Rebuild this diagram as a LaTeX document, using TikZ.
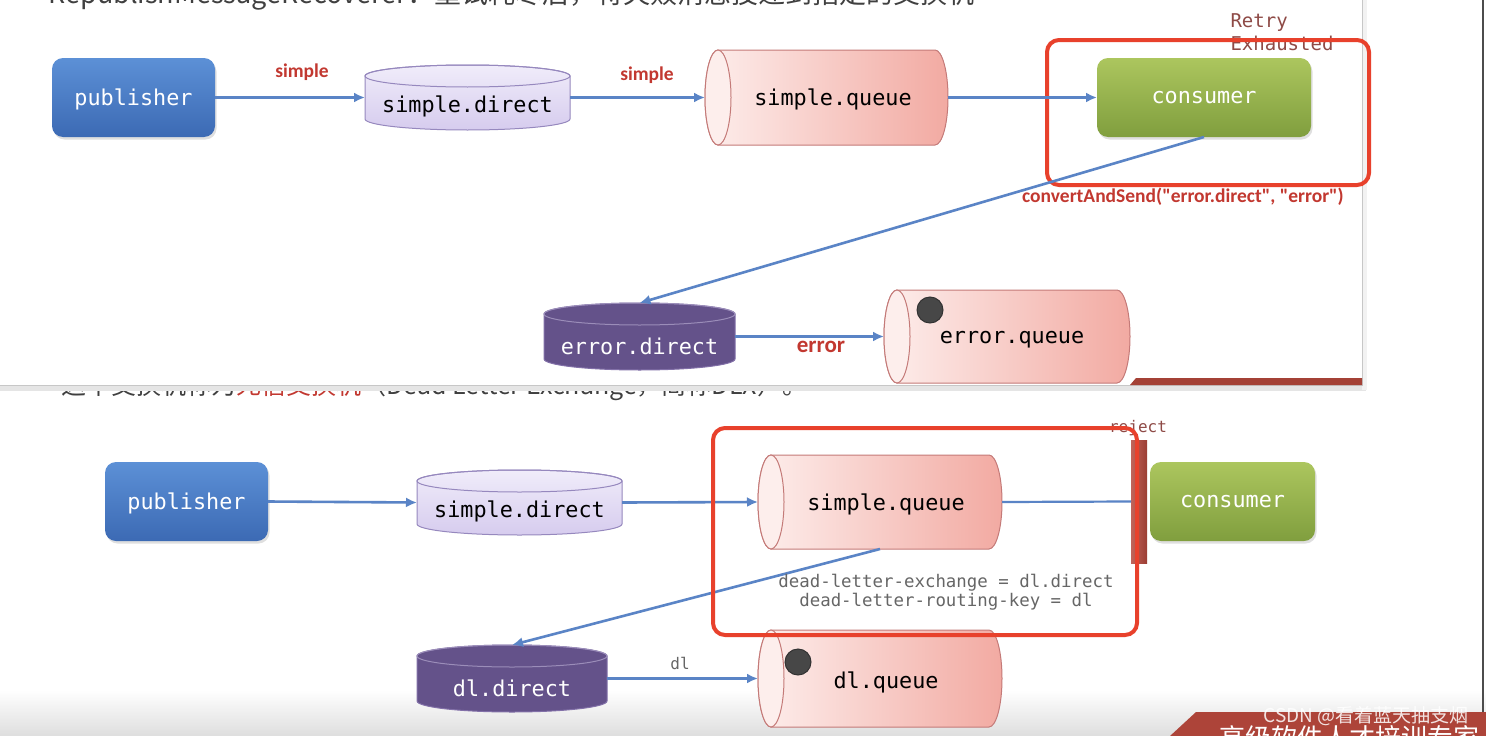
\documentclass[tikz,border=0pt]{standalone}
\usepackage{fontspec}
\setmainfont{Carlito}
\setmonofont{DejaVu Sans Mono}
\newfontfamily\cjk{Noto Sans CJK SC}
\usepackage{tikz}
\usetikzlibrary{arrows.meta,positioning,shadows}

\definecolor{pubtop}{RGB}{92,144,214}
\definecolor{pubbot}{RGB}{60,106,180}
\definecolor{contop}{RGB}{172,198,94}
\definecolor{conbot}{RGB}{128,158,62}
\definecolor{lilactop}{RGB}{240,236,250}
\definecolor{lilacbot}{RGB}{214,204,238}
\definecolor{lilacedge}{RGB}{150,136,190}
\definecolor{plum}{RGB}{100,82,138}
\definecolor{plumedge}{RGB}{130,112,168}
\definecolor{qleft}{RGB}{253,238,236}
\definecolor{qright}{RGB}{242,170,162}
\definecolor{qedge}{RGB}{196,122,120}
\definecolor{linkblue}{RGB}{90,132,198}
\definecolor{hilite}{RGB}{232,65,44}
\definecolor{keyred}{RGB}{194,56,48}
\definecolor{notebrown}{RGB}{142,74,70}
\definecolor{barred}{RGB}{182,72,60}

\tikzset{
  flow/.style={draw=linkblue, line width=2.6pt, -{Latex[length=11pt,width=10pt]}},
  link/.style={draw=linkblue, line width=2.2pt},
  boxlabel/.style={font=\ttfamily\fontsize{21.8}{26}\selectfont},
  shapebox/.style={inner sep=0pt, outer sep=0pt},
  appbox/.style={shapebox, rounded corners=11pt, text=white, boxlabel, text depth=1pt,
    drop shadow={opacity=0.25, shadow xshift=1.5pt, shadow yshift=-2.5pt}},
  pubbox/.style={appbox, top color=pubtop, bottom color=pubbot, minimum width=163pt, minimum height=79pt},
  conbox/.style={appbox, top color=contop, bottom color=conbot, minimum height=79pt},
  xlight/.style={draw=lilacedge, line width=1pt, top color=lilactop, bottom color=lilacbot},
  xdark/.style={draw=plumedge, line width=1pt, fill=plum},
  qbody/.style={draw=qedge, line width=1pt, left color=qleft, right color=qright},
  qend/.style={draw=qedge, line width=1pt, fill=qleft},
  msgdot/.style={draw=black!80, line width=1pt, fill=black!72},
  keylabel/.style={text=keyred, font=\bfseries\fontsize{19.5}{23}\selectfont},
  notelabel/.style={text=notebrown, font=\ttfamily\fontsize{19}{23}\selectfont},
  redframe/.style={draw=hilite, line width=4pt, rounded corners=12pt},
}

\begin{document}
\begin{tikzpicture}[x=1pt,y=1pt]
  \useasboundingbox (0,0) rectangle (1486,-736);
  \clip (0,0) rectangle (1486,-736);

  % page background and bottom fade
  \fill[white] (0,0) rectangle (1486,-736);
  \shade[top color=white, bottom color=black!13] (0,-690) rectangle (1486,-736);

  % text line half hidden under the slide
  \node[anchor=west, font=\cjk\fontsize{25}{30}\selectfont, text=black!75] (dlxnote) at (58,-387)
    {这个交换机称为{\color{keyred}死信交换机}（Dead Letter Exchange，简称DLX）。};

  % upper slide with its shadow
  \fill[black!10] (0,-384) rectangle (1366,-391);
  \fill[black!5] (1362,0) rectangle (1367,-390);
  \fill[white] (0,0) rectangle (1362,-385);
  \draw[black!22, line width=0.8pt] (1362,0) -- (1362,-385) -- (0,-385);
  \fill[barred!90!black] (1136,-378) -- (1130,-385) -- (1362,-385) -- (1362,-378) -- cycle;
  \node[anchor=west, font=\cjk\fontsize{27}{32}\selectfont, text=black!75] (recnote) at (45,5)
    {RepublishMessageRecoverer：重试耗尽后，将失败消息投递到指定的交换机};

  % ---------------- upper diagram ----------------
  \node[pubbox] (pub1) at (133.5,-97.5) {publisher};

  % simple.direct
  \path[xlight] (365,-76) -- (365,-119) arc[start angle=180,end angle=360,x radius=102.5,y radius=11]
    -- (570,-76) arc[start angle=0,end angle=180,x radius=102.5,y radius=11] -- cycle;
  \draw[lilacedge, line width=1pt] (467.5,-76) ellipse [x radius=102.5, y radius=11];
  \node[shapebox, minimum width=205pt, minimum height=65pt] (sd1) at (467.5,-97.5) {};
  \node[boxlabel] (sd1t) at ([yshift=-9pt]sd1.center) {simple.direct};

  % simple.queue
  \path[qbody] (718,-50) arc[start angle=90,end angle=270,x radius=13,y radius=47.5]
    -- (935,-145) arc[start angle=-90,end angle=90,x radius=13,y radius=47.5] -- cycle;
  \draw[qend] (718,-97.5) ellipse [x radius=13, y radius=47.5];
  \node[shapebox, minimum width=243pt, minimum height=95pt] (sq1) at (826.5,-97.5) {};
  \node[boxlabel] (sq1t) at (833,-99.5) {simple.queue};

  \node[conbox, minimum width=214pt] (con1) at (1204,-97.5) {consumer};

  \node[notelabel, anchor=north west, align=left] (retry) at (1227,-10) {Retry\\Exhausted};
  \draw[redframe] (1047,-40) rectangle (1369,-185);

  % error.direct
  \path[xdark] (544,-314) -- (544,-359) arc[start angle=180,end angle=360,x radius=95.5,y radius=11]
    -- (735,-314) arc[start angle=0,end angle=180,x radius=95.5,y radius=11] -- cycle;
  \draw[plumedge!80!white, line width=1pt] (639.5,-314) ellipse [x radius=95.5, y radius=11];
  \node[shapebox, minimum width=191pt, minimum height=67pt] (ed1) at (639.5,-336.5) {};
  \node[boxlabel, text=white] (ed1t) at (639.5,-346) {error.direct};

  % error.queue
  \path[qbody] (897,-290) arc[start angle=90,end angle=270,x radius=13,y radius=46.5]
    -- (1117,-383) arc[start angle=-90,end angle=90,x radius=13,y radius=46.5] -- cycle;
  \draw[qend] (897,-336.5) ellipse [x radius=13, y radius=46.5];
  \fill[msgdot] (930,-310) circle (13);
  \node[shapebox, minimum width=246pt, minimum height=93pt] (eq1) at (1007,-336.5) {};
  \node[boxlabel] (eq1t) at (1012,-340) {error.queue};

  % upper connectors
  \draw[flow] (pub1.east) -- (sd1.west);
  \draw[flow] (sd1.east) -- (sq1.west);
  \draw[flow] (sq1.east) -- (con1.west);
  \draw[flow] (con1.south) -- (ed1.north);
  \draw[flow] (ed1.east) -- (eq1.west);
  \node[keylabel] (k1) at (302,-72) {simple};
  \node[keylabel] (k2) at (647,-75) {simple};
  \node[keylabel, font=\bfseries\fontsize{23}{27}\selectfont] (k3) at (821,-347) {error};
  \node[keylabel] (k4) at (1183,-197) {convertAndSend(\textquotedbl error.direct\textquotedbl, \textquotedbl error\textquotedbl)};

  % ---------------- lower diagram ----------------
  \node[pubbox] (pub2) at (186.5,-501.5) {publisher};

  % simple.direct
  \path[xlight] (417,-481) -- (417,-524) arc[start angle=180,end angle=360,x radius=102.5,y radius=11]
    -- (622,-481) arc[start angle=0,end angle=180,x radius=102.5,y radius=11] -- cycle;
  \draw[lilacedge, line width=1pt] (519.5,-481) ellipse [x radius=102.5, y radius=11];
  \node[shapebox, minimum width=205pt, minimum height=65pt] (sd2) at (519.5,-502.5) {};
  \node[boxlabel] (sd2t) at ([yshift=-9pt]sd2.center) {simple.direct};

  % simple.queue
  \path[qbody] (771,-455) arc[start angle=90,end angle=270,x radius=13,y radius=47]
    -- (989,-549) arc[start angle=-90,end angle=90,x radius=13,y radius=47] -- cycle;
  \draw[qend] (771,-502) ellipse [x radius=13, y radius=47];
  \node[shapebox, minimum width=244pt, minimum height=94pt] (sq2) at (880,-502) {};
  \node[boxlabel] (sq2t) at (886,-504) {simple.queue};

  \node[notelabel, font=\ttfamily\fontsize{16}{19}\selectfont] (rej) at (1138,-428) {reject};
  \node[shapebox, minimum width=16pt, minimum height=123pt, left color=barred!85!white,
    right color=barred!85!black] (bar) at (1139,-501.5) {};
  \node[conbox, minimum width=165pt] (con2) at (1232.5,-501.5) {consumer};

  % dl.direct
  \path[xdark] (417,-656) -- (417,-701) arc[start angle=180,end angle=360,x radius=95,y radius=11]
    -- (607,-656) arc[start angle=0,end angle=180,x radius=95,y radius=11] -- cycle;
  \draw[plumedge!80!white, line width=1pt] (512,-656) ellipse [x radius=95, y radius=11];
  \node[shapebox, minimum width=190pt, minimum height=67pt] (dd2) at (512,-678.5) {};
  \node[boxlabel, text=white] (dd2t) at (512,-688) {dl.direct};

  % dl.queue
  \path[qbody] (771,-630) arc[start angle=90,end angle=270,x radius=13,y radius=48.5]
    -- (989,-727) arc[start angle=-90,end angle=90,x radius=13,y radius=48.5] -- cycle;
  \draw[qend] (771,-678.5) ellipse [x radius=13, y radius=48.5];
  \fill[msgdot] (798,-662) circle (13);
  \node[shapebox, minimum width=244pt, minimum height=97pt] (dq2) at (880,-678.5) {};
  \node[boxlabel] (dq2t) at (886,-682) {dl.queue};

  % lower connectors
  \draw[flow] (pub2.east) -- (sd2.west);
  \draw[flow] (sd2.east) -- (sq2.west);
  \draw[link] (sq2.east) -- (bar.west);
  \draw[flow] (sq2.south) -- (dd2.north);
  \draw[flow] (dd2.east) -- (dq2.west);
  \node[notelabel, text=black!60, font=\ttfamily\fontsize{16}{19}\selectfont] (dlkey) at (680,-663) {dl};
  \node[notelabel, text=black!60, align=center, font=\ttfamily\fontsize{17.4}{19}\selectfont]
    (dlargs) at (946,-592) {dead-letter-exchange = dl.direct\\dead-letter-routing-key = dl};
  \draw[redframe] (713,-428) rectangle (1137,-635);

  % frame edge, banner and watermark
  \draw[black!70, line width=1.5pt] (1483,0) -- (1483,-736);
  \fill[barred!95!black] (1170,-736) -- (1196,-712) -- (1486,-712) -- (1486,-736) -- cycle;
  \node[anchor=west, font=\cjk\fontsize{26}{30}\selectfont, text=white] (banner) at (1216,-738) {高级软件人才培训专家};
  \node[anchor=west, font=\cjk\fontsize{19}{22}\selectfont, text=white, opacity=0.85] (mark) at (1260,-716) {CSDN @看着蓝天抽支烟};
\end{tikzpicture}
\end{document}
